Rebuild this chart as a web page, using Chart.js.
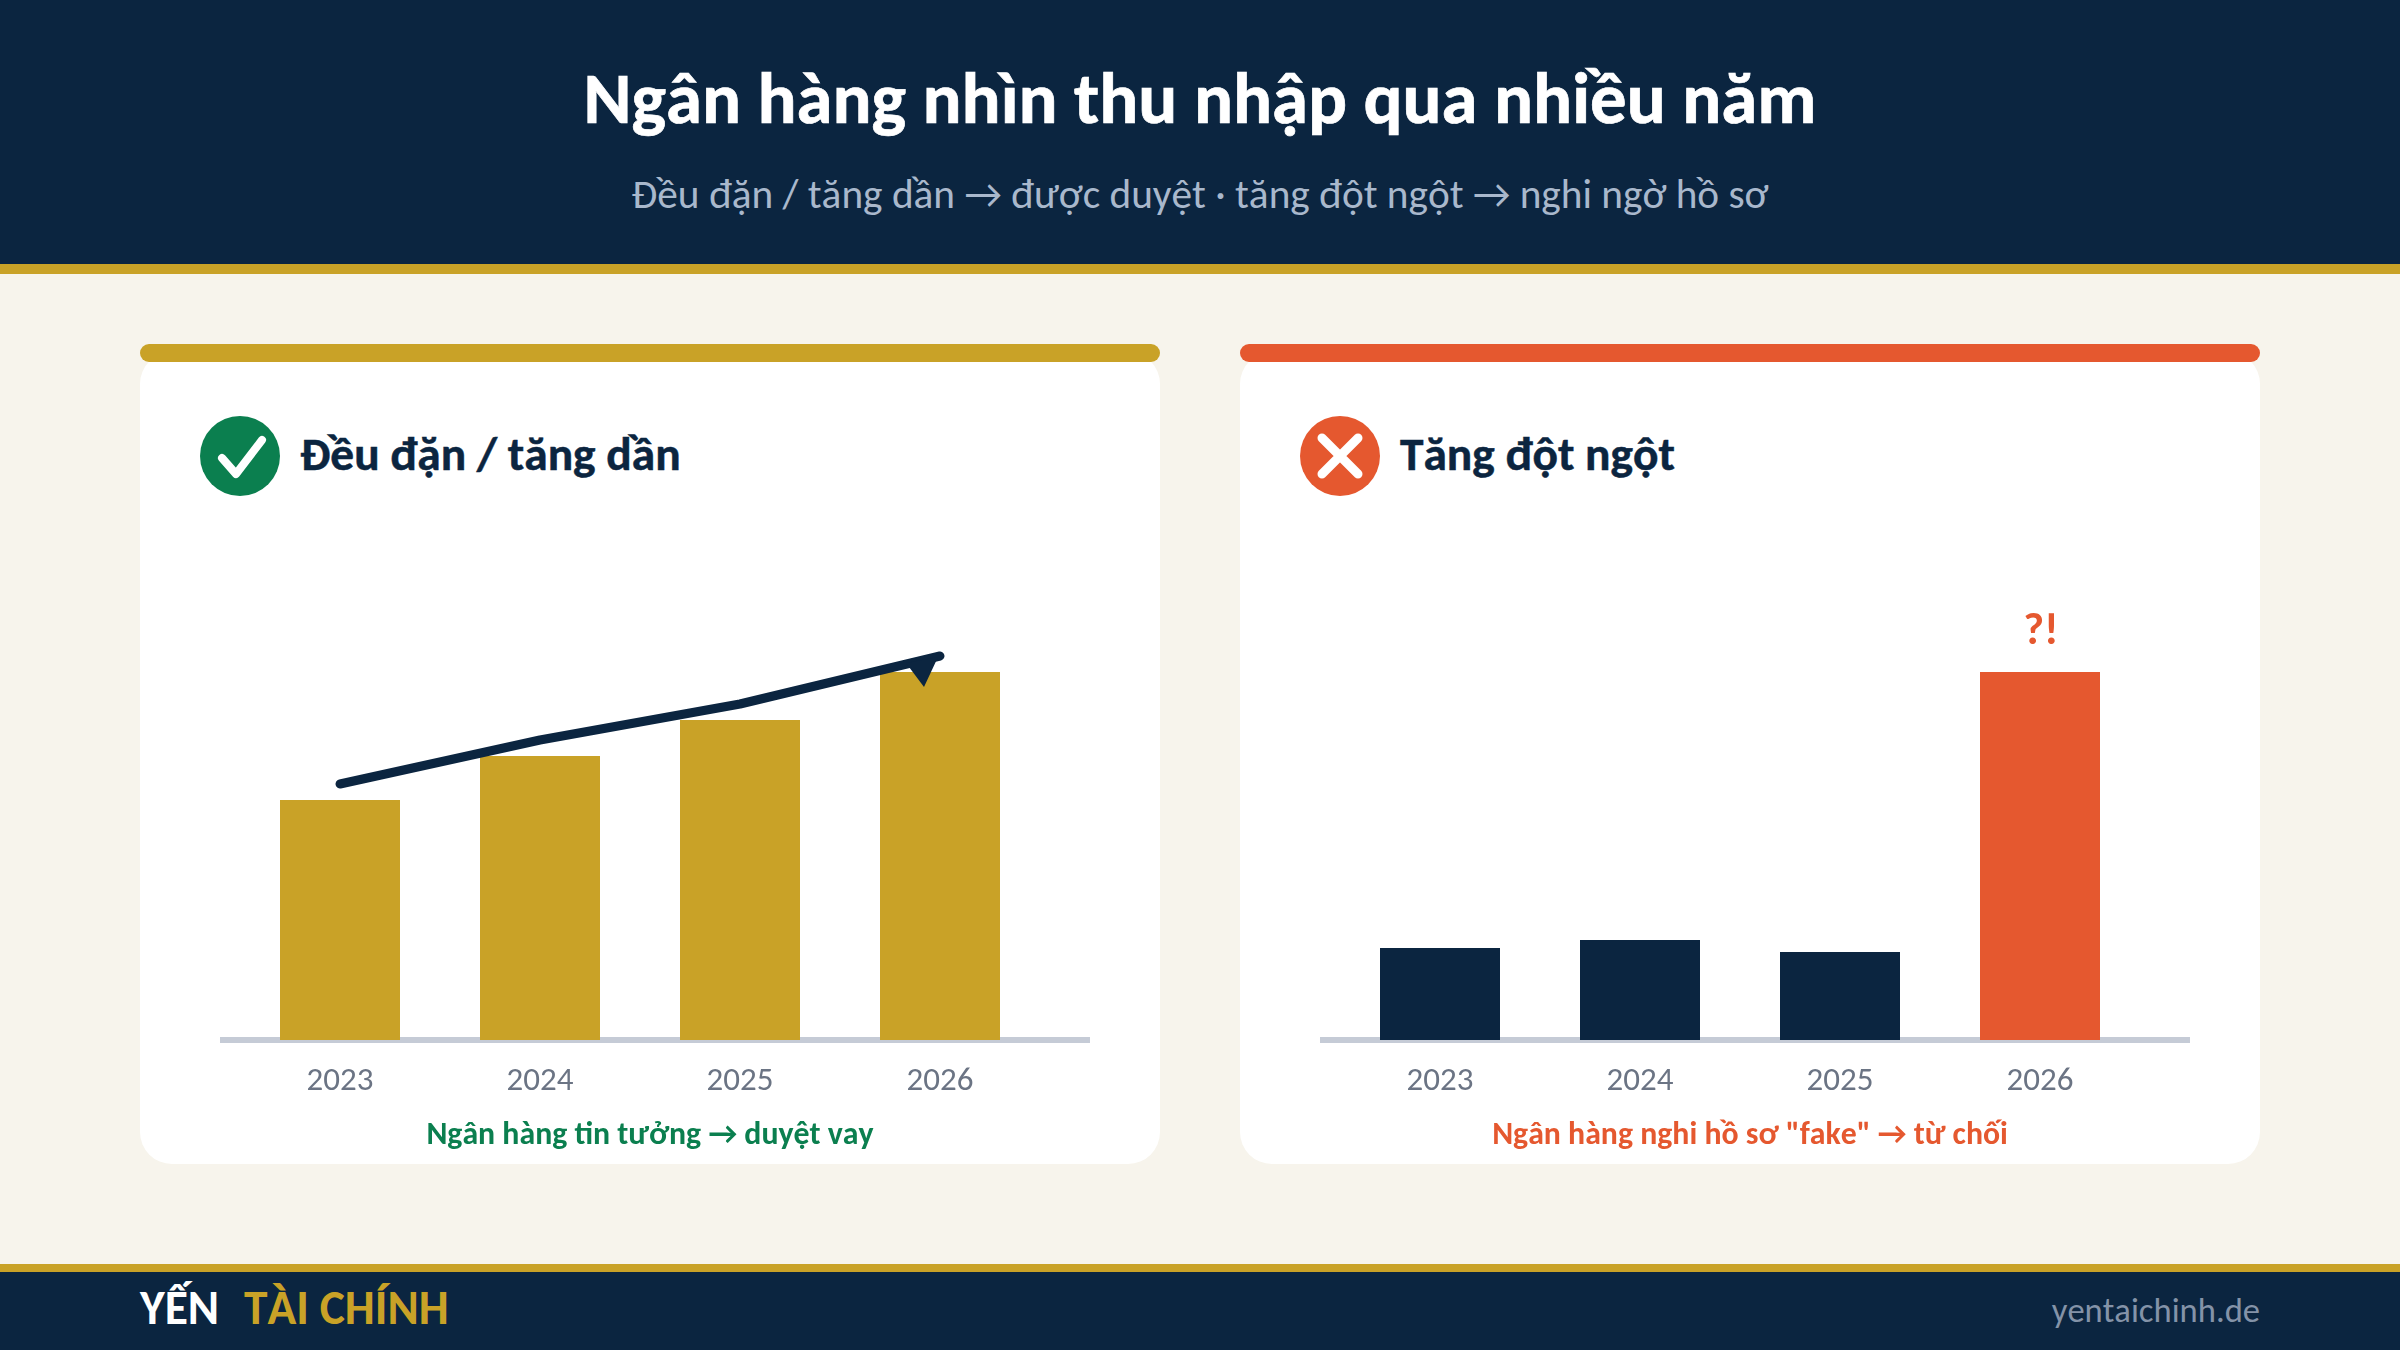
<!DOCTYPE html>
<html lang="vi"><head><meta charset="utf-8">
<script src="https://cdn.jsdelivr.net/npm/chart.js@4"></script>
<style>
*{margin:0;padding:0;box-sizing:border-box}
html,body{width:2400px;height:1350px;overflow:hidden;background:#f7f4ec;font-family:Carlito,Lato,sans-serif;font-kerning:none}
.abs{position:absolute;white-space:nowrap}
#hdr{left:0;top:0;width:2400px;height:264px;background:#0b2540}
#hl{left:0;top:264px;width:2400px;height:10px;background:#c9a227}
#title{left:0;width:2400px;top:57px;text-align:center;font-size:72.8px;font-weight:700;line-height:84px;color:#fff;-webkit-text-stroke:.7px #fff}
#sub{left:0;width:2400px;top:169px;text-align:center;font-size:41.3px;line-height:50px;color:#a9b8cc}
.card{top:352px;width:1020px;height:812px;background:#fff;border-radius:32px}
.bar{top:344px;width:1020px;height:18px;border-radius:9px}
.cv{top:344px;width:1020px;height:820px}
.h{top:423px;font-size:47.4px;line-height:62px;font-weight:700;color:#0b2540;-webkit-text-stroke:.5px #0b2540}
.note{top:1113px;width:1020px;text-align:center;font-size:31.8px;line-height:42px;font-weight:700}
#fl{left:0;top:1264px;width:2400px;height:8px;background:#c9a227}
#ft{left:0;top:1272px;width:2400px;height:78px;background:#0b2540}
.brand{top:1282px;font-size:47.5px;line-height:52px;font-weight:700}
#site{right:140px;top:1288px;font-size:34.6px;line-height:44px;color:#8493a8}
svg.abs{overflow:visible}
</style></head><body>
<div class="abs" id="hdr"></div><div class="abs" id="hl"></div>
<div class="abs" id="title">Ngân hàng nhìn thu nhập qua nhiều năm</div>
<div class="abs" id="sub">Đều đặn / tăng dần → được duyệt · tăng đột ngột → nghi ngờ hồ sơ</div>

<div class="abs card" style="left:140px"></div>
<div class="abs card" style="left:1240px"></div>
<div class="abs bar" style="left:140px;background:#c9a227"></div>
<div class="abs bar" style="left:1240px;background:#e5582f"></div>

<svg class="abs" style="left:200px;top:416px" width="80" height="80"><circle cx="40" cy="40" r="40" fill="#0b7f4f"/><path d="M22 42L36 58L62 24" fill="none" stroke="#fff" stroke-width="8" stroke-linecap="round" stroke-linejoin="round"/></svg>
<div class="abs h" style="left:300px">Đều đặn / tăng dần</div>
<svg class="abs" style="left:1300px;top:416px" width="80" height="80"><circle cx="40" cy="40" r="40" fill="#e5582f"/><path d="M22 22L58 58M58 22L22 58" fill="none" stroke="#fff" stroke-width="9" stroke-linecap="round"/></svg>
<div class="abs h" style="left:1400px">Tăng đột ngột</div>

<div class="abs cv" style="left:140px"><canvas id="c1" width="1020" height="820"></canvas></div>
<div class="abs cv" style="left:1240px"><canvas id="c2" width="1020" height="820"></canvas></div>

<div class="abs note" style="left:140px;color:#0b7f4f">Ngân hàng tin tưởng → duyệt vay</div>
<div class="abs note" style="left:1240px;color:#e5582f">Ngân hàng nghi hồ sơ "fake" → từ chối</div>

<div class="abs" id="fl"></div><div class="abs" id="ft"></div>
<div class="abs brand" style="left:140px;color:#fff">YẾN</div>
<div class="abs brand" style="left:244px;color:#c9a227">TÀI CHÍNH</div>
<div class="abs" id="site">yentaichinh.de</div>

<script>
const years = ['2023','2024','2025','2026'];
const steadyBars = [60,71,80,92];
const steadyTrend = [64,75,84,96];
const spikeBars = [23,25,22,92];
const spikeNote = ['','','','?!'];
const NAVY='#0b2540',GOLD='#c9a227',ORANGE='#e5582f';

const baseAxis={id:'baseAxis',beforeDatasetsDraw(c){
  const x=c.scales.x,y=c.scales.y,g=c.ctx;
  g.save();g.fillStyle='#c5cbd6';
  g.fillRect(x.left-20,y.getPixelForValue(0)-3,870,6);g.restore();
}};
const arrowHead={id:'arrowHead',afterDatasetsDraw(c){
  const ds=c.data.datasets.find(d=>d.type==='line');if(!ds)return;
  const i=ds.data.length-1;
  const px=c.scales.x.getPixelForValue(i),py=c.scales.y.getPixelForValue(ds.data[i]);
  const g=c.ctx;g.save();g.fillStyle=NAVY;g.beginPath();
  g.moveTo(px-16,py+31);g.lineTo(px-2,py+1);g.lineTo(px-34,py+7);g.closePath();g.fill();g.restore();
}};
const barNotes={id:'barNotes',afterDatasetsDraw(c,a,o){
  const notes=o.labels;if(!notes)return;
  const m=c.getDatasetMeta(0),g=c.ctx;g.save();
  g.fillStyle=ORANGE;g.font='700 45px Carlito, Lato';g.textAlign='center';g.textBaseline='alphabetic';
  notes.forEach((t,i)=>{if(t)g.fillText(t,m.data[i].x+1,m.data[i].y-28)});g.restore();
}};
function make(id,datasets,notes){
  new Chart(document.getElementById(id),{
    type:'bar',
    data:{labels:years,datasets},
    plugins:[baseAxis,arrowHead,barNotes],
    options:{
      responsive:false,animation:false,
      layout:{padding:{left:100,right:120,top:236,bottom:0}},
      plugins:{legend:{display:false},tooltip:{enabled:false},barNotes:{labels:notes}},
      scales:{
        x:{grid:{display:false},border:{display:false},
           ticks:{color:'#6b7484',font:{family:'Carlito, Lato',size:33},padding:14,maxRotation:0},
           afterFit(s){s.height=124}},
        y:{display:false,min:0,max:115}
      }
    }
  });
}
make('c1',[
  {type:'line',data:steadyTrend,borderColor:NAVY,borderWidth:9,borderCapStyle:'round',borderJoinStyle:'round',pointRadius:0,tension:0,clip:false,order:0},
  {type:'bar',data:steadyBars,backgroundColor:GOLD,categoryPercentage:0.6,barPercentage:1,order:1}
],null);
make('c2',[
  {type:'bar',data:spikeBars,backgroundColor:[NAVY,NAVY,NAVY,ORANGE],categoryPercentage:0.6,barPercentage:1}
],spikeNote);
</script>
</body></html>
